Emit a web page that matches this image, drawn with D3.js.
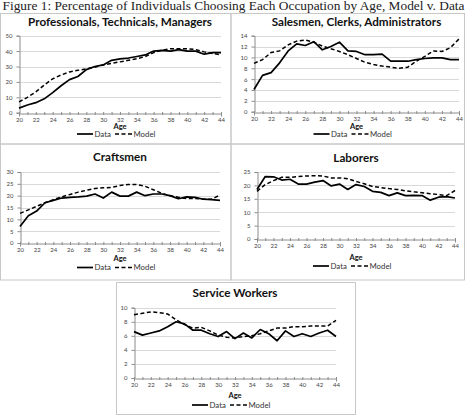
<!DOCTYPE html>
<html>
<head>
<meta charset="utf-8">
<script src="https://cdn.jsdelivr.net/npm/d3@7"></script>
<style>
  body { margin: 0; background: #fff; }
  svg { display: block; }
</style>
</head>
<body>
<svg id="chart" width="467" height="420"></svg>
<script>
// ages on the x axis
const ages = d3.range(20, 45);
const ageTicks = [20, 22, 24, 26, 28, 30, 32, 34, 36, 38, 40, 42, 44];

// Professionals, Technicals, Managers
const profData  = [3, 5, 6.5, 9, 13, 17.5, 21.5, 23.5, 28, 30, 31, 34, 35, 35.5, 36.5, 37.5, 40, 40.5, 40, 41, 40, 40, 38, 39, 39];
const profModel = [7, 10, 13.5, 18, 22, 24.5, 26.5, 27.5, 28.5, 29.5, 31, 32, 33, 34, 35, 36.5, 39, 40.5, 41.5, 41.5, 41.5, 41, 39.5, 38.5, 37.5];
const profTicks = [0, 10, 20, 30, 40, 50];

// Salesmen, Clerks, Administrators
const salesData  = [4.1, 6.7, 7.2, 9, 11.2, 12.5, 12.2, 12.9, 11.4, 12, 12.8, 11.2, 11.1, 10.5, 10.5, 10.6, 9.3, 9.3, 9.3, 9.6, 9.8, 9.9, 9.9, 9.6, 9.6];
const salesModel = [8.9, 9.6, 10.9, 11.2, 12.3, 13, 13.2, 12.8, 12.1, 11.6, 11.1, 10.5, 9.8, 9.1, 8.7, 8.4, 8.2, 8.0, 8.2, 9.3, 10.2, 11.2, 11.1, 11.8, 13.4];
const salesTicks = [0, 2, 4, 6, 8, 10, 12, 14];

// Craftsmen
const craftData  = [7, 11.5, 13.5, 17, 18, 19, 19.3, 19.5, 19.8, 20.7, 19, 21.5, 19.8, 19.8, 21.5, 20, 20.7, 20.7, 20, 18.7, 19.5, 19.3, 18.5, 18.3, 18];
const craftModel = [12.5, 14, 15.5, 17, 18.3, 19.5, 20.5, 21.5, 22.3, 23, 23.3, 23.5, 24.3, 24.7, 24.7, 24, 22.5, 21, 20, 19.3, 18.8, 18.8, 18.5, 18.5, 20.3];
const craftTicks = [0, 5, 10, 15, 20, 25, 30];

// Laborers
const laborData  = [18.5, 23.3, 23.2, 22, 22.3, 20.5, 20.5, 21.2, 21.8, 19.8, 20.5, 18.5, 20.3, 19.6, 17.8, 17.4, 16.2, 17.2, 16.2, 16.3, 16.2, 14.5, 15.6, 15.8, 15.3];
const laborModel = [17.8, 20.3, 21.8, 23, 23, 23.3, 23.5, 23.6, 23.5, 22.8, 22.8, 22.5, 21.5, 20.6, 19.6, 19.2, 18.8, 18.5, 18, 17.6, 17.3, 16.9, 16.6, 16.2, 18.1];
const laborTicks = [0, 5, 10, 15, 20, 25];

// Service Workers
const servData  = [6.6, 6.1, 6.4, 6.7, 7.3, 8.0, 7.7, 6.8, 6.8, 6.3, 5.9, 6.6, 5.6, 6.4, 5.7, 6.9, 6.3, 5.3, 6.7, 5.9, 6.3, 5.9, 6.4, 6.8, 5.9];
const servModel = [9.0, 9.2, 9.4, 9.3, 9.1, 8.3, 7.6, 7.1, 7.2, 6.7, 6.1, 5.8, 5.7, 5.9, 6.0, 6.3, 6.7, 7.1, 7.1, 7.3, 7.3, 7.4, 7.4, 7.4, 8.2];
const servTicks = [0, 2, 4, 6, 8, 10];

const svg = d3.select('#chart');
const FONT = "Lato, 'Open Sans', sans-serif";

// Figure caption
svg.append('text')
  .attr('x', 233.5).attr('y', 10)
  .attr('text-anchor', 'middle')
  .attr('textLength', 462)
  .attr('lengthAdjust', 'spacingAndGlyphs')
  .style('font-family', "'Liberation Serif', 'DejaVu Serif', serif")
  .style('font-size', '11.5px')
  .style('fill', '#222')
  .text('Figure 1: Percentage of Individuals Choosing Each Occupation by Age, Model v. Data');

// panel boxes and plot areas
const panels = [
  { title: 'Professionals, Technicals, Managers', data: profData, model: profModel, ticks: profTicks,
    box: [0.5, 13.5, 231, 144], plot: [19, 221, 35.7, 112.7], titleY: 26, ageY: 126, legendY: 134 },
  { title: 'Salesmen, Clerks, Administrators', data: salesData, model: salesModel, ticks: salesTicks,
    box: [231, 13.5, 464.5, 144], plot: [254, 459, 35.7, 111.7], titleY: 26, ageY: 126, legendY: 134 },
  { title: 'Craftsmen', data: craftData, model: craftModel, ticks: craftTicks,
    box: [0.5, 144, 231, 280], plot: [20, 220, 172, 243], titleY: 161, ageY: 258.5, legendY: 267.5 },
  { title: 'Laborers', data: laborData, model: laborModel, ticks: laborTicks,
    box: [231, 144, 464.5, 280], plot: [257, 455, 172, 239], titleY: 162, ageY: 257, legendY: 266 },
  { title: 'Service Workers', data: servData, model: servModel, ticks: servTicks,
    box: [116.5, 282.5, 355.5, 414.5], plot: [134, 336, 307.7, 378], titleY: 297, ageY: 395.5, legendY: 405 }
];

panels.forEach(drawPanel);

function drawPanel(p) {
  const [bx0, by0, bx1, by1] = p.box;
  const [px0, px1, py0, py1] = p.plot;

  svg.append('rect')
    .attr('x', bx0).attr('y', by0)
    .attr('width', bx1 - bx0).attr('height', by1 - by0)
    .attr('fill', 'none')
    .attr('stroke', '#c8c8c8')
    .attr('stroke-width', 1);

  const x = d3.scaleLinear().domain([20, 44]).range([px0, px1]);
  const y = d3.scaleLinear().domain([0, d3.max(p.ticks)]).range([py1, py0]);

  const g = svg.append('g');

  // title
  g.append('text')
    .attr('x', (px0 + px1) / 2).attr('y', p.titleY)
    .attr('text-anchor', 'middle')
    .style('font-family', FONT)
    .style('font-weight', 'bold')
    .style('font-size', '11.7px')
    .style('fill', '#111')
    .text(p.title);

  // grid lines
  g.append('g')
    .selectAll('line')
    .data(p.ticks.filter(d => d > 0))
    .join('line')
    .attr('x1', px0).attr('x2', px1)
    .attr('y1', d => Math.round(y(d)) + 0.5).attr('y2', d => Math.round(y(d)) + 0.5)
    .attr('stroke', '#d9d9d9')
    .attr('stroke-width', 1);

  // y axis
  const yAxis = d3.axisLeft(y).tickValues(p.ticks).tickSize(3).tickPadding(4);
  const ya = g.append('g')
    .attr('transform', 'translate(' + (Math.round(px0) + 0.5) + ',0)')
    .call(yAxis);

  // x axis: a tick every year, labels every other year
  const xAxis = d3.axisBottom(x).tickValues(ages).tickSize(3).tickPadding(1)
    .tickFormat(d => ageTicks.includes(d) ? d : '');
  const xa = g.append('g')
    .attr('transform', 'translate(0,' + (Math.round(py1) + 0.5) + ')')
    .call(xAxis);

  [ya, xa].forEach(a => {
    a.select('.domain').attr('stroke', '#8c8c8c');
    a.selectAll('.tick line').attr('stroke', '#8c8c8c');
    a.selectAll('.tick text')
      .style('font-family', FONT)
      .style('font-size', '6px')
      .style('fill', '#444');
  });
  // ticks straddle the axis line
  xa.selectAll('.tick line').attr('y1', -1.5).attr('y2', 1.5);

  // axis title
  g.append('text')
    .attr('x', (px0 + px1) / 2).attr('y', p.ageY + 2.7)
    .attr('text-anchor', 'middle')
    .style('font-family', FONT)
    .style('font-weight', 'bold')
    .style('font-size', '7.5px')
    .style('fill', '#111')
    .text('Age');

  const line = d3.line()
    .x((d, i) => x(ages[i]))
    .y(d => y(d));

  g.append('path')
    .attr('d', line(p.model))
    .attr('fill', 'none')
    .attr('stroke', '#000')
    .attr('stroke-width', 1.5)
    .attr('stroke-dasharray', '4,2.5');

  g.append('path')
    .attr('d', line(p.data))
    .attr('fill', 'none')
    .attr('stroke', '#000')
    .attr('stroke-width', 1.7)
    .attr('stroke-linejoin', 'round');

  // legend
  const cx = (px0 + px1) / 2;
  const lg = g.append('g').attr('transform', 'translate(' + (cx - 43) + ',' + p.legendY + ')');
  lg.append('line').attr('x1', 0).attr('x2', 16).attr('y1', 0).attr('y2', 0)
    .attr('stroke', '#000').attr('stroke-width', 1.7);
  lg.append('text').attr('x', 17.5).attr('y', 2.8)
    .style('font-family', FONT).style('font-size', '7.8px').style('fill', '#333')
    .text('Data');
  lg.append('line').attr('x1', 38).attr('x2', 55).attr('y1', 0).attr('y2', 0)
    .attr('stroke', '#000').attr('stroke-width', 1.5).attr('stroke-dasharray', '4,2.5');
  lg.append('text').attr('x', 56.5).attr('y', 2.8)
    .style('font-family', FONT).style('font-size', '7.8px').style('fill', '#333')
    .text('Model');
}
</script>
</body>
</html>
